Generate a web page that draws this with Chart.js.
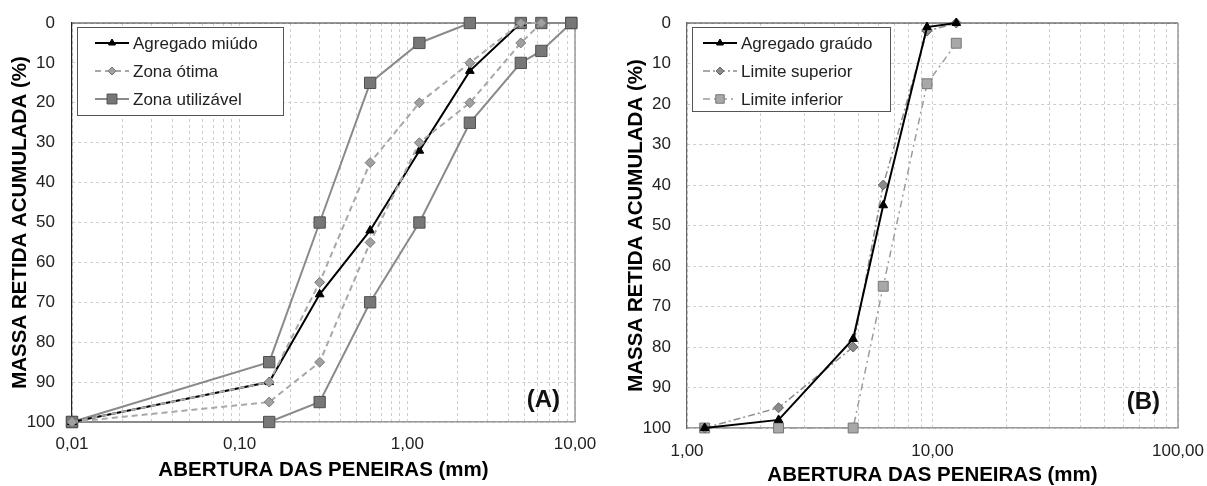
<!DOCTYPE html>
<html lang="pt">
<head>
<meta charset="UTF-8">
<title>Curvas granulométricas</title>
<script src="https://cdn.jsdelivr.net/npm/chart.js"></script>
<style>
  body { margin: 0; background: #fff; }
  .painel { position: absolute; top: 0; }
  #painelA { left: 0; }
  #painelB { left: 600px; }
</style>
</head>
<body>
<div class="painel" id="painelA"><canvas id="graficoA" width="600" height="486"></canvas></div>
<div class="painel" id="painelB"><canvas id="graficoB" width="607" height="486"></canvas></div>
<script>
// (A) agregado miúdo - aberturas (mm) e massa retida acumulada (%)
const peneirasA = [0.01, 0.15, 0.3, 0.6, 1.18, 2.36, 4.75, 6.3, 9.5];
const agregadoMiudo = [100, 90, 68, 52, 32, 12, 0, null, null];
const otimaSuperior = [100, 90, 65, 35, 20, 10, 0, 0, null];
const otimaInferior = [100, 95, 85, 55, 30, 20, 5, 0, null];
const utilizavelSuperior = [100, 85, 50, 15, 5, 0, 0, 0, 0];
const utilizavelInferior = [100, 100, 95, 70, 50, 25, 10, 7, 0];
const decadasA = [0.01, 0.1, 1, 10];
const rotulosA = ['0,01', '0,10', '1,00', '10,00'];

// (B) agregado graúdo
const peneirasB = [1.18, 2.36, 4.75, 6.3, 9.5, 12.5];
const agregadoGraudo = [100, 98, 78, 45, 1, 0];
const limiteSuperior = [100, 95, 80, 40, 2, 0];
const limiteInferior = [100, 100, 100, 65, 15, 5];
const decadasB = [1, 10, 100];
const rotulosB = ['1,00', '10,00', '100,00'];

const FONTE = '"Liberation Sans", Arial, sans-serif';
Chart.defaults.font.family = FONTE;

// estilos das séries
const estMiudo = { cor: '#000', largura: 2, traco: [], ponto: 'triangle', raio: 5, fundo: '#000', borda: '#000' };
const estOtima = { cor: '#a8a8a8', largura: 2, traco: [6, 4], ponto: 'rectRot', raio: 5, fundo: '#a0a0a0', borda: '#7a7a7a' };
const estUtil = { cor: '#8a8a8a', largura: 2, traco: [], ponto: 'rect', raio: 8, fundo: '#777', borda: '#505050' };
const estGraudo = { cor: '#000', largura: 2, traco: [], ponto: 'triangle', raio: 5, fundo: '#000', borda: '#000' };
const estSup = { cor: '#8c8c8c', largura: 1.5, traco: [7, 3, 2, 3], ponto: 'rectRot', raio: 5, fundo: '#8a8a8a', borda: '#666' };
const estInf = { cor: '#9c9c9c', largura: 1.5, traco: [7, 4, 2, 4], ponto: 'rect', raio: 7, fundo: '#a8a8a8', borda: '#777' };

function pontos(xs, ys) {
    return xs.map((x, i) => ({ x: x, y: ys[i] })).filter(p => p.y !== null);
}

function serie(rotulo, xs, ys, est, ordem) {
    return {
        label: rotulo,
        data: pontos(xs, ys),
        borderColor: est.cor,
        borderWidth: est.largura,
        borderDash: est.traco,
        pointStyle: est.ponto,
        pointRadius: est.raio,
        pointBackgroundColor: est.fundo,
        pointBorderColor: est.borda,
        pointBorderWidth: 1,
        tension: 0,
        clip: false,
        order: ordem
    };
}

function eixos(decadas, rotulos, o) {
    return {
        x: {
            type: 'logarithmic',
            min: decadas[0],
            max: decadas[decadas.length - 1],
            afterBuildTicks: s => {
                const t = [];
                for (let i = 0; i < decadas.length - 1; i++) {
                    for (let k = 1; k < 10; k++) t.push({ value: k * decadas[i] });
                }
                t.push({ value: decadas[decadas.length - 1] });
                s.ticks = t;
            },
            // altura fixa e sem folga automática para os rótulos das pontas
            afterFit: s => { s.height = o.alturaX; s.paddingLeft = 0; s.paddingRight = 0; },
            ticks: {
                autoSkip: false, maxRotation: 0, padding: o.padX,
                font: { size: 17 }, color: '#222',
                callback: v => {
                    const i = decadas.findIndex(d => Math.abs(v / d - 1) < 1e-6);
                    return i >= 0 ? rotulos[i] : '';
                }
            },
            grid: { color: '#cdcdcd', drawTicks: false },
            border: { color: '#9a9a9a', width: 1.5, dash: [3, 3] },
            title: {
                display: true, text: 'ABERTURA DAS PENEIRAS (mm)', color: '#000',
                font: { size: 20.5, weight: 'bold', lineHeight: 1 },
                padding: { top: 0, bottom: o.tituloX }
            }
        },
        y: {
            reverse: true, min: 0, max: 100,
            afterFit: s => { s.width = o.larguraY; s.paddingTop = 0; s.paddingBottom = 0; },
            ticks: { stepSize: 10, padding: o.padY, font: { size: 17 }, color: '#222' },
            grid: { color: '#cdcdcd', drawTicks: false },
            border: { color: o.corEixoY, width: 1.2, dash: [3, 3] },
            title: {
                display: true, text: 'MASSA RETIDA ACUMULADA (%)', color: '#000',
                font: { size: 20.5, weight: 'bold', lineHeight: 1 },
                padding: { top: o.tituloY, bottom: 0 }
            }
        }
    };
}

// moldura, legenda e letra do painel
function moldura(legenda, letra, o) {
    return {
        id: 'moldura',
        beforeDatasetsDraw(chart) {
            const a = chart.chartArea, ctx = chart.ctx;
            ctx.save();
            ctx.lineWidth = 1.2;
            ctx.strokeStyle = '#333';
            ctx.beginPath(); ctx.moveTo(a.left, a.top); ctx.lineTo(a.right, a.top); ctx.stroke();
            ctx.strokeStyle = '#9a9a9a';
            ctx.lineWidth = 1.5;
            ctx.beginPath(); ctx.moveTo(a.right, a.top); ctx.lineTo(a.right, a.bottom); ctx.stroke();
            ctx.restore();
        },
        afterDatasetsDraw(chart) {
            const a = chart.chartArea, ctx = chart.ctx;
            ctx.save();
            // caixa da legenda
            const bx = a.left + 5, by = a.top + 4;
            ctx.fillStyle = '#fff';
            ctx.fillRect(bx, by, o.legL, o.legA);
            ctx.strokeStyle = '#555';
            ctx.lineWidth = 1;
            ctx.strokeRect(bx + 0.5, by + 0.5, o.legL, o.legA);
            legenda.forEach((item, i) => {
                const y = by + 16 + i * 28;
                const x0 = bx + o.linhaX0, x1 = bx + o.linhaX1;
                ctx.strokeStyle = item.est.cor;
                ctx.lineWidth = item.est.largura;
                ctx.setLineDash(item.est.traco);
                ctx.beginPath(); ctx.moveTo(x0, y); ctx.lineTo(x1, y); ctx.stroke();
                ctx.setLineDash([]);
                ctx.fillStyle = item.est.fundo;
                ctx.strokeStyle = item.est.borda;
                ctx.lineWidth = 1;
                Chart.helpers.drawPoint(ctx, { pointStyle: item.est.ponto, radius: item.est.raio - 1, rotation: 0, borderWidth: 1 }, (x0 + x1) / 2, y);
                ctx.fillStyle = '#222';
                ctx.font = '17px ' + FONTE;
                ctx.textAlign = 'left';
                ctx.textBaseline = 'middle';
                ctx.fillText(item.texto, x1 + 4, y + 1);
            });
            // letra (A)/(B)
            ctx.fillStyle = '#111';
            ctx.font = 'bold 24px ' + FONTE;
            ctx.textAlign = 'right';
            ctx.textBaseline = 'middle';
            ctx.fillText(letra, a.right - o.letraDx, a.bottom - o.letraDy);
            ctx.restore();
        }
    };
}

function criaGrafico(id, datasets, escalas, padding, plugin) {
    return new Chart(document.getElementById(id), {
        type: 'line',
        data: { datasets: datasets },
        options: {
            responsive: false,
            animation: false,
            events: [],
            layout: { padding: padding, autoPadding: false },
            scales: escalas,
            plugins: { legend: { display: false }, tooltip: { enabled: false } }
        },
        plugins: [plugin]
    });
}

criaGrafico('graficoA', [
    serie('Agregado miúdo', peneirasA, agregadoMiudo, estMiudo, 1),
    serie('Zona ótima', peneirasA, otimaSuperior, estOtima, 0),
    serie('Zona ótima', peneirasA, otimaInferior, estOtima, 0),
    serie('Zona utilizável', peneirasA, utilizavelSuperior, estUtil, 2),
    serie('Zona utilizável', peneirasA, utilizavelInferior, estUtil, 2)
], eixos(decadasA, rotulosA, { alturaX: 64, padX: 12, tituloX: 5, larguraY: 68, padY: 17, tituloY: 6, corEixoY: '#222' }),
{ left: 4, top: 23, right: 25, bottom: 0 },
moldura([
    { texto: 'Agregado miúdo', est: estMiudo },
    { texto: 'Zona ótima', est: estOtima },
    { texto: 'Zona utilizável', est: estUtil }
], '(A)', { legL: 206, legA: 88, linhaX0: 18, linhaX1: 52, letraDx: 15, letraDy: 22 }));

criaGrafico('graficoB', [
    serie('Agregado graúdo', peneirasB, agregadoGraudo, estGraudo, 0),
    serie('Limite superior', peneirasB, limiteSuperior, estSup, 1),
    serie('Limite inferior', peneirasB, limiteInferior, estInf, 2)
], eixos(decadasB, rotulosB, { alturaX: 58, padX: 13, tituloX: 0, larguraY: 83, padY: 16, tituloY: 22, corEixoY: '#666' }),
{ left: 4, top: 23, right: 29, bottom: 0 },
moldura([
    { texto: 'Agregado graúdo', est: estGraudo },
    { texto: 'Limite superior', est: estSup },
    { texto: 'Limite inferior', est: estInf }
], '(B)', { legL: 198, legA: 84, linhaX0: 11, linhaX1: 45, letraDx: 18, letraDy: 26 }));
</script>
</body>
</html>
